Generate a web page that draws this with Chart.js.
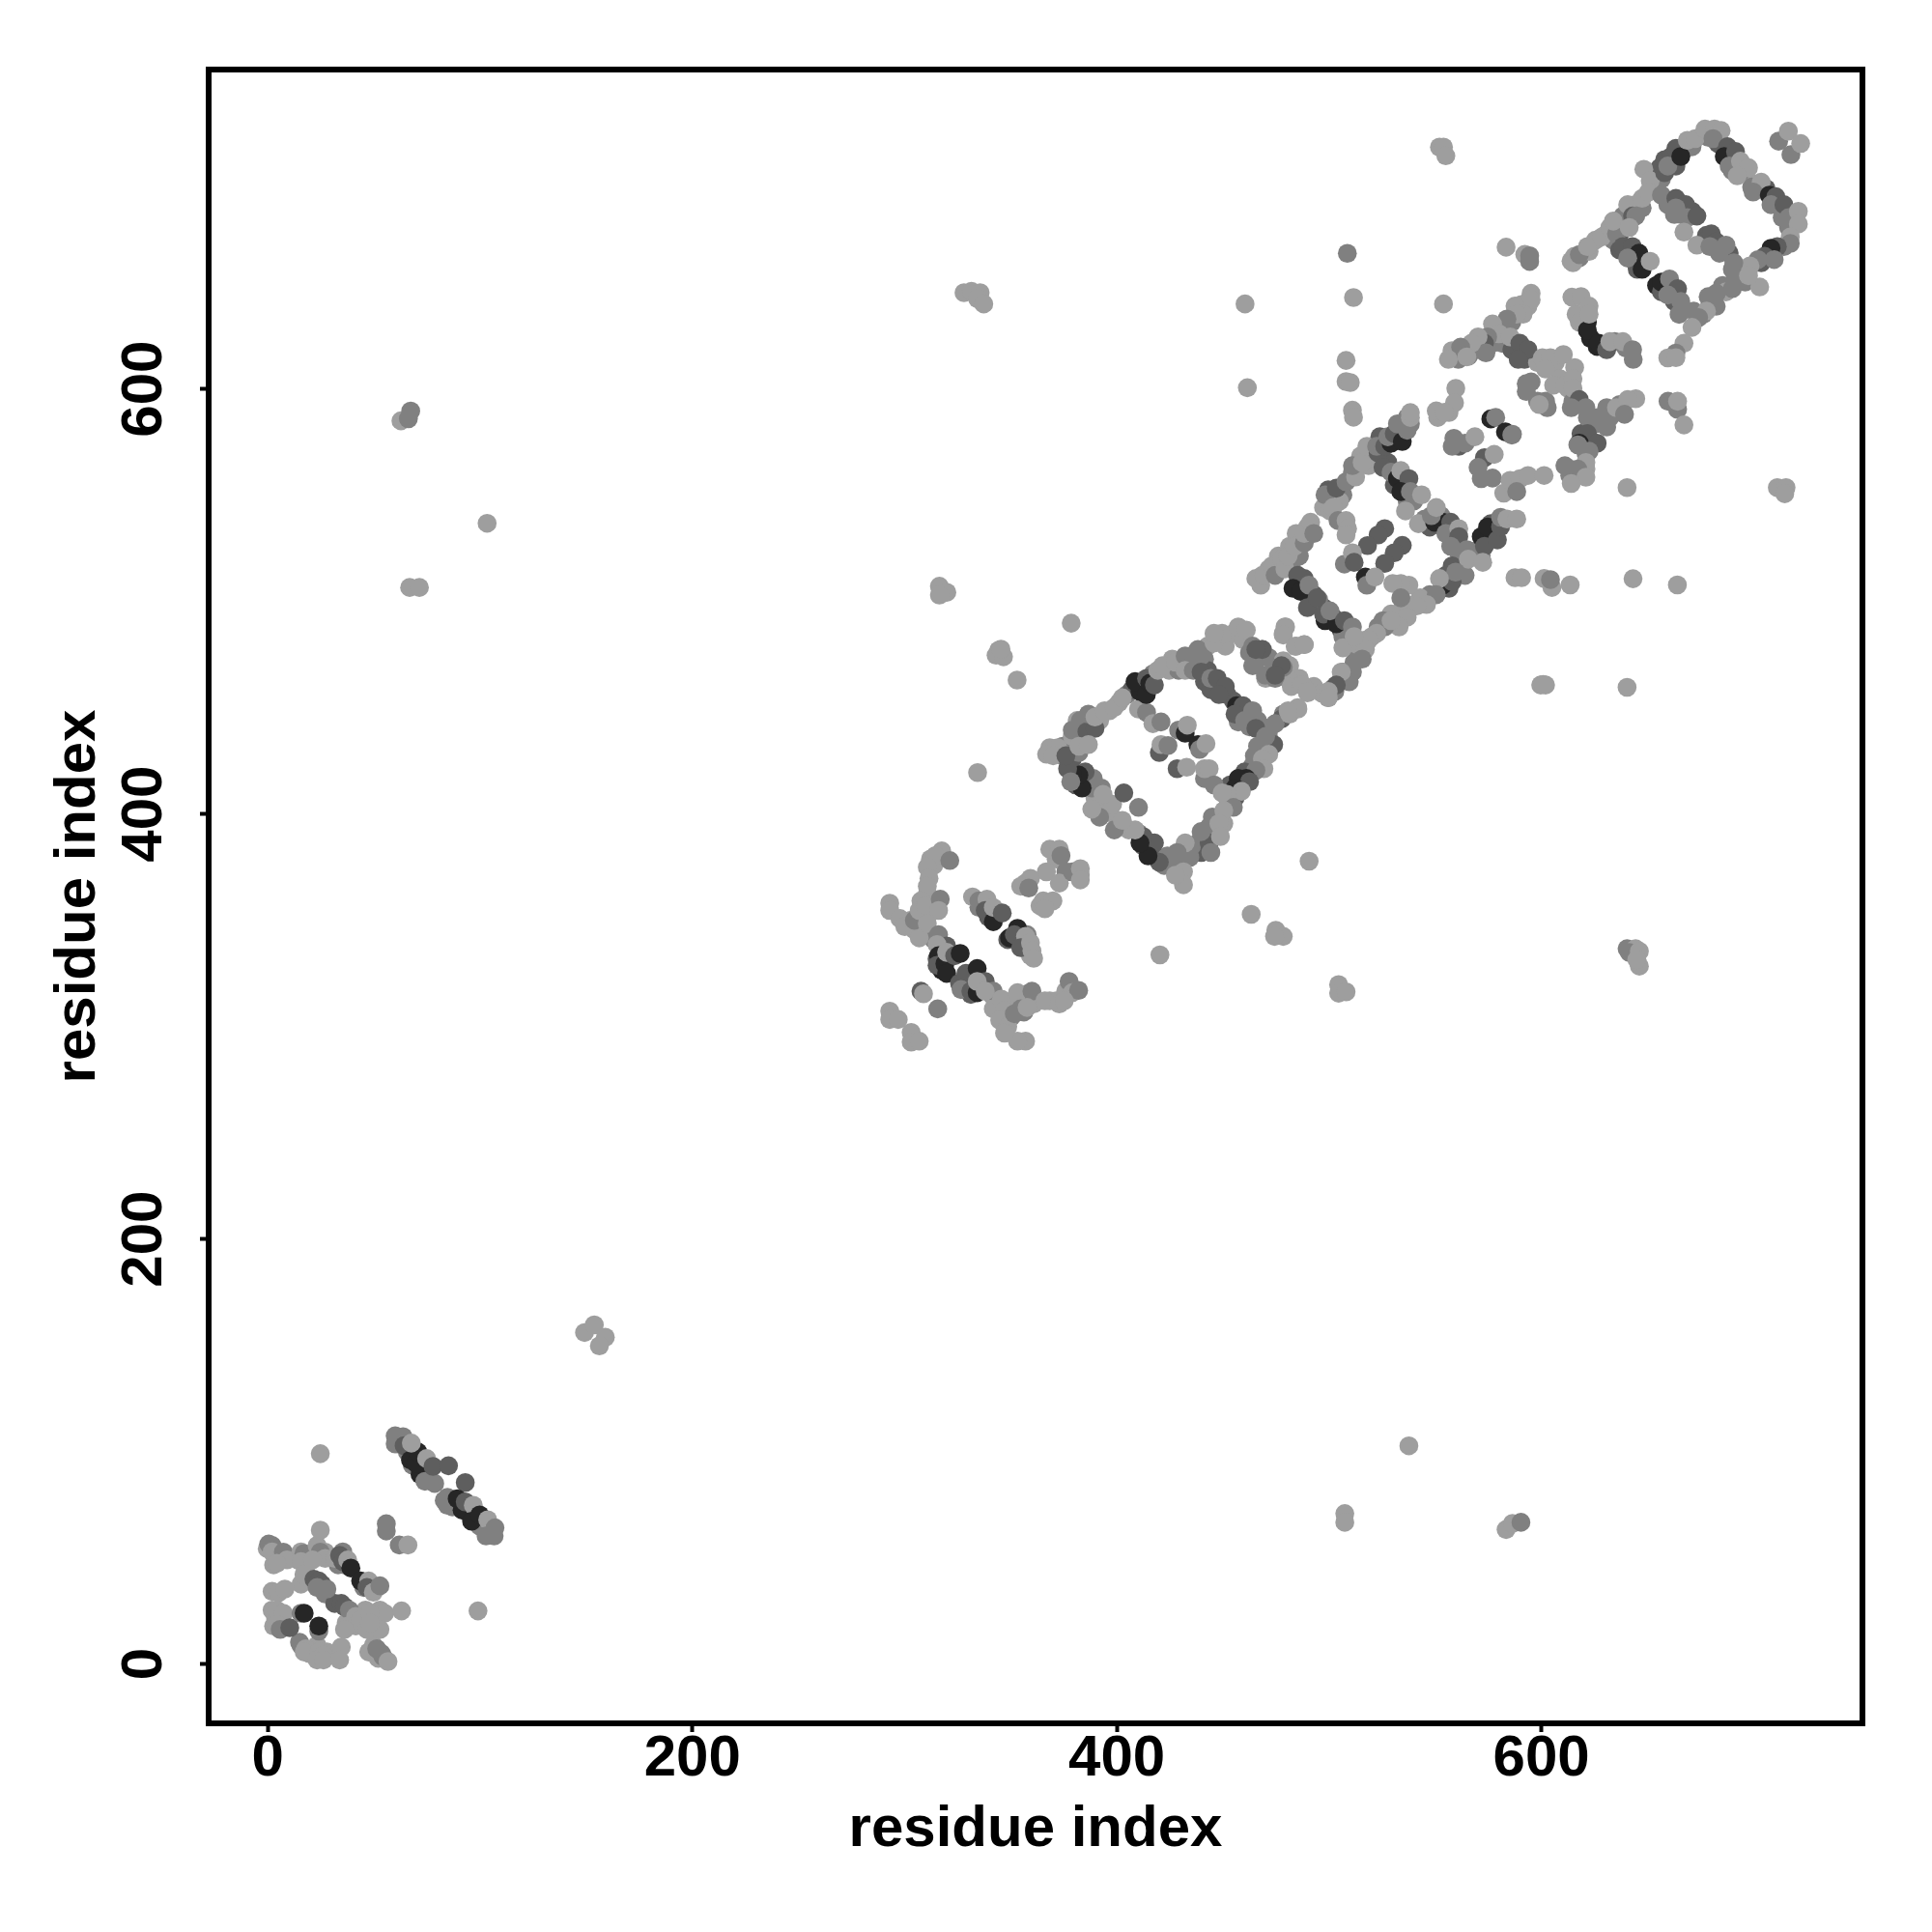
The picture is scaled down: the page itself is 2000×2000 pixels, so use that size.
<!DOCTYPE html>
<html><head><meta charset="utf-8">
<script src="https://cdn.jsdelivr.net/npm/chart.js@4"></script>
<style>html,body{margin:0;padding:0;background:#fff}canvas{display:block}</style>
</head><body><canvas id="c" width="2000" height="2000"></canvas>
<script>
// each record: [residue x, residue y, contact level 0..3]
const strandLowUnder=[[-0.3,54.3,0],[5.8,49.7,0],[2.7,46.7,0],[14.1,49,0],[17.9,45.9,0],[22.4,51.2,0],[27,52.7,0],[33.1,46.7,1],[36.1,46.7,1],[45.2,36,1],[50.5,36,0],[27,33,1],[31.5,28.5,2],[36.9,19.4,0],[41.4,17.9,0],[46,25.4,0],[49.7,19.4,0],[49.7,15.6,0],[5.8,22.4,0],[3.5,22.4,0],[2.7,17.9,0],[14.9,10.3,1],[19.4,5,0],[27.8,5.7,0],[23.2,8.8,0],[49.7,8.8,0],[52,2.7,0],[61.9,103.6,2],[68,93.7,1],[74.8,90.7,1],[83.1,77,1],[86.9,74,1],[94.5,71,1],[99.8,64.9,1],[103.6,63.4,1],[72.5,89.2,1],[65.7,99.8,1]];
const strandLowLeft=[[0.4,56.5,1],[2,55.8,1],[3.5,53.5,1],[2,52.8,0],[5,49,0],[7.3,52.7,1],[9,49,0],[4.2,47.4,0],[15.6,52.8,0],[17,52,1],[15.6,48.2,0],[15.6,37.6,0],[17,42.1,0],[23.2,55.8,0],[24.7,52.7,1],[27,49.7,0],[21,49,0],[31.5,49.7,0],[35.3,52.8,1],[33.8,51.2,2],[35.3,48.2,2],[37.6,49,0],[39.1,45.2,3],[43.7,39.1,3],[47.5,39.1,0],[46.7,36,2],[49.7,33.8,0],[52.8,36.8,1],[21.7,39.9,2],[24,39.1,2],[25.5,37.5,2],[23.2,36,1],[27.8,35.3,1],[34.6,28.5,2],[36.1,27,2],[38.4,25.4,1],[41.4,22.4,0],[37.6,17.9,0],[36.1,16.3,0],[43.7,20.9,0],[52.8,25.4,0],[55,23.9,0],[48.2,23.9,0],[46.7,16.3,0],[52.8,16.3,0],[48.2,19.4,0],[2,34.2,0],[5,33.5,0],[8,35.3,0],[2,25.4,0],[4.2,25.4,0],[7.3,23.9,0],[4.2,18.6,0],[5.8,16.3,1],[10.3,17.1,2],[15.6,23.9,1],[17.1,23.9,3],[24,15.5,1],[24,17.9,3],[15.6,8.8,1],[17.9,7.2,0],[17.1,5.7,0],[24,5.7,0],[26.2,4.2,0],[23.2,1.9,0],[26.2,1.9,0],[34.6,8,0],[33.8,1.9,0],[47.5,5.7,0],[51.3,7.2,1],[53.5,5,1],[54.3,3.4,1],[56.6,1.2,0]];
const strandLowIso=[[24.7,99,0],[24.7,63,0],[55.8,62.6,1],[55.8,66,1],[61.9,56,1],[66,56,0],[63,25,0],[99,25,0]];
const strandLowBand=[[60,103.6,1],[60,107.4,1],[63.7,107,1],[64.2,102.8,2],[67.2,96,3],[71.7,89.2,3],[69.8,94.5,3],[70.7,99.8,3],[67.6,104,0],[74.8,96.7,0],[74,86,1],[78.6,85,1],[77.8,93,2],[85.1,93.3,2],[93,85.4,2],[84.6,74.7,1],[84.6,78.5,1],[91.5,72.5,3],[89.2,77.8,3],[93,76.3,2],[96.8,74.7,0],[96,67.2,3],[99.8,70.2,3],[103.6,67.9,0],[102.8,60.3,1],[106.6,60.3,1],[107,64.1,1]];
const farContacts=[[149.2,156,0],[153.8,159.6,0],[159,153.8,0],[156.2,149.7,0],[537.6,102.7,0],[507.4,70.8,0],[507.4,66.7,0],[583.4,63.3,0],[586.4,66.2,0],[590.4,66.7,1],[62.7,585,0],[66.2,586,1],[67.3,589.6,1],[103.3,536.8,0],[66.8,506.6,0],[71.4,506.6,0],[328,645.3,0],[331.5,645.9,0],[335.6,645.3,0],[334.4,642.4,0],[337.3,640,0],[552,713.8,0],[553.9,713.8,0],[555,709.7,0],[460.4,640,0],[553.9,640,0],[511.5,643,0],[508.6,663.8,1],[508,613.4,0],[508,603.5,0],[510,603,0],[511,590,0],[511.5,586.7,0],[461.5,600.6,0],[583.4,666.7,0],[592.2,663.3,0],[594.5,662.7,1],[594.5,660,1],[711.8,716.6,1],[717.6,710.3,1],[716.4,721.3,0],[722.2,715.5,0],[711.2,553.6,0],[715.3,553.6,0],[714.7,550.7,0],[640.4,553.6,0],[643.2,510.7,0],[664.1,507.8,0],[613.6,507.8,0],[587.6,511.2,0],[590.7,511.2,0],[601.3,510.8,0],[605,506.6,0],[604.3,510.3,1],[599.7,460.7,0],[602,460.7,0],[640.4,459.6,0],[463.3,352.8,0],[474.9,345.3,0],[478.4,342.4,0],[474.3,342.4,0],[490.6,377.8,0],[420.3,333.7,0],[504.5,319.7,0],[504.5,315.7,0],[508,316.3,0],[640.4,336.6,1],[644.4,336.6,0],[641.5,334.8,1],[646.2,335.4,0],[646.2,328.4,0],[645,331.5,0],[334.4,419.5,0],[316.4,507.2,0],[319.9,504.3,0],[316.4,503,0],[378.5,489.8,0],[353,463,0],[344.3,477,0],[343.1,474.7,0],[346.6,474,0],[345.4,477.6,0],[659.7,594.2,1],[664.2,590.4,1],[664.2,594.2,0],[667.2,583.1,0]];
const bridgeUnder=[[310.7,354.6,0],[303.1,350,0],[306.9,345.5,0],[310.7,362.2,0],[314.5,357.6,0],[312.2,378.8,0],[313.7,375.8,0],[313.7,340.9,1],[317.5,336.4,2],[315.3,331.8,2],[317.5,326.5,3],[327.4,321.2,2],[332,322.7,2],[331.2,315.1,2],[336.5,319.7,2],[341,315.1,1],[342.6,312.1,0],[347.1,310.6,0],[350.2,304.5,1],[353.2,312.1,0],[357,315.1,1],[356.2,306.8,1],[345.6,304.5,0],[360.8,310.6,0],[368.4,312.1,0],[371.4,312.1,0],[375.9,316.6,0],[335,356.1,1],[338,357.6,1],[339.5,351.5,2],[348.6,340.9,2],[357,339.4,1],[357.7,343.2,1],[353.2,340.9,2],[359.3,333.3,0],[371.4,378.8,0],[357,367.5,0],[376,372.8,1],[382.8,371.3,0],[363.8,356.8,0]];
const bridgeMid=[[293,358,0],[293,354.6,0],[297.8,350.8,0],[300.1,347,0],[304.6,345.5,0],[306.9,341.7,0],[317.5,382.6,0],[314.5,380.4,0],[321.3,378.1,1],[310.7,375,0],[311.5,369.7,0],[310.7,366,0],[304.6,350,1],[307.7,359.1,0],[306.9,354.6,0],[310,356.8,0],[316.8,359.9,1],[316,354.6,0],[310.7,348.5,0],[316,343.2,1],[319.8,337.9,2],[315.3,338.6,0],[316,333.3,3],[315.3,328.8,2],[319,329.5,3],[319.8,325,3],[319.8,334.9,0],[323.6,333.3,2],[326.2,334.4,3],[325.9,320.4,2],[328.9,325,2],[334.2,327.3,3],[326.6,317.4,1],[331.2,316.6,2],[334.2,315.9,3],[338,321.2,2],[334.2,321.2,0],[341.8,316.6,1],[338,316.6,0],[341.8,308.3,0],[345.6,312.9,0],[347.1,307.5,0],[344.8,303,0],[348.6,300,0],[351.7,306,1],[353.2,315.9,0],[354.7,308.3,1],[360,316.6,1],[357.7,309,0],[357,293.1,0],[353.2,293.1,0],[347.1,296.9,0],[366.1,312.1,0],[372.9,310.6,0],[377.5,321.2,1],[379,315.9,0],[382,317,1],[375.2,312.1,0],[332,361,0],[335,359.1,1],[338.8,359.9,0],[338,354.6,2],[341.8,349.3,3],[341.8,356,0],[346,353.4,2],[349.4,341.7,3],[353.2,346.2,3],[351.7,343.2,2],[357,342.4,0],[354.7,337.1,2],[359.3,339.4,0],[360,335.6,0],[360.8,332.1,0],[307.7,316.6,2],[308.9,315.4,0],[315.6,308.3,1],[293,307.2,0],[293,303.3,0],[297,303.3,0],[303.1,297.2,0],[303.1,292.7,0],[306.9,293.1,0],[368.4,383.4,0],[372.9,383.4,0],[373.7,380.4,1],[366.8,372.8,0],[359.3,369.7,0],[354.7,366,0],[358.5,365.2,1],[372.9,367.5,0],[379,372.8,1],[382.8,374.3,0],[382.8,369,0],[365.3,359.1,0],[369.9,359.1,0],[366.1,355.4,0]];
const diamondOneUnder=[[374.5,431.9,1],[376.8,425.9,2],[380.6,439.5,1],[384.4,444,1],[391.9,444,0],[396.5,448.6,0],[401,452.4,0],[404.8,456.2,1],[407.1,458.5,2],[417,466,1],[424.6,467.6,0],[429.1,467.6,1],[426.1,472.9,0],[434.4,472.9,1],[442.8,479,0],[441.3,472.9,1],[451.1,479,0],[454.9,485,0],[459.5,482,0],[462.5,475.9,1],[466.3,472.9,1],[471.6,473.6,1],[473.9,467.6,1],[478.4,472.1,0],[481.4,469.8,0],[486,463.8,0],[480.7,463.8,0],[492.8,460,0],[496.6,456.9,0],[442.8,467.6,2],[441.3,462.3,2],[444.3,458.5,2],[451.9,456.2,2],[454.9,453.2,2],[457.2,443.3,1],[462.5,441,1],[462.5,447,2],[468.6,441,1],[478.4,447,1],[471.6,439.5,1],[471.6,435.7,1],[469.3,432.7,1],[468.6,428.9,1],[464.8,427.4,1],[464,422.8,1],[460.2,419.8,2],[458.7,415.2,2],[453.4,413.7,2],[452.6,404.6,1],[448.8,398.6,0],[445,398.6,1],[450.4,395.5,0],[445.8,391,0],[442.8,387.9,2],[438.2,386.4,1],[439.7,381.9,2],[435.2,384.9,1],[430.6,380.3,1],[426.1,375.8,1],[422.3,375.8,1],[418.5,379.6,2],[416.2,386.4,2],[412.4,384.9,2],[410.2,391,1],[405.6,392.5,0],[400.3,397,0],[395.7,401.6,0],[391.2,403.1,0],[389.7,407.6,0],[392.7,412.2,1],[388.2,412.2,1],[385.1,415.2,2],[380.6,413.7,2],[377.5,421.3,2],[379,425.9,2],[382.1,428.9,1],[374.5,427.4,1]];
const diamondOne=[[368.4,431.2,0],[372.2,431.2,0],[366.9,428.1,0],[370,427.4,0],[379,436.5,0],[381.3,444,0],[382.8,444,1],[379,439.5,1],[385.9,438.7,2],[389.7,440.3,2],[386.6,447,1],[389.7,445.6,0],[394.2,448.6,0],[398.8,450.1,0],[402.6,454.7,0],[410.2,449.4,0],[414,447.8,1],[410.9,457.7,3],[408.6,462.3,3],[413.9,456.2,3],[414,463.8,2],[415.5,461.5,3],[417.7,460.7,2],[419.3,467.6,0],[421.5,469.8,0],[427.6,471.4,0],[432.2,474.4,1],[432.2,467.6,0],[438.2,477.4,1],[436,467.6,1],[439.7,474.4,1],[439.7,466.8,2],[445.8,480.5,0],[449.6,485,0],[445.8,485,0],[457.2,488,0],[461,486.5,0],[464,479,1],[468.6,477.4,1],[464,469.8,1],[478.4,469,1],[470.1,463.8,0],[474.6,463.8,1],[479.2,488,0],[478.4,485,0],[488.3,479.7,0],[484.5,479,0],[482.2,460,0],[486.8,460.7,0],[489.8,457,0],[499.6,454.7,0],[502.7,457.7,1],[444.3,463.8,1],[447.3,463.8,2],[451.1,460,2],[448.1,456.2,2],[456.4,450.9,3],[459.5,450.9,2],[455.7,447,2],[460.2,444,1],[464,448.6,1],[466.3,444,1],[465.5,440.3,2],[477.7,444.8,2],[474.6,442.5,1],[481.4,447,0],[485.3,449.4,0],[473.9,432.7,2],[470.1,436.5,1],[466.3,431.9,1],[471.6,428.1,0],[468.6,425.9,0],[469.3,421.3,0],[465.5,420.5,1],[461,416.7,3],[457.2,416.7,3],[462.5,415.2,2],[455.7,412.2,3],[455.7,407.6,2],[458.7,410.7,0],[451.9,409.2,0],[454.9,403.1,1],[450.4,401.6,0],[443.5,394,1],[448.1,395.5,0],[443.5,386.4,2],[439.7,391.7,1],[444.3,381.9,1],[448.8,389.4,0],[434.4,379.6,1],[432.2,386.4,0],[428.4,381.9,1],[431.4,372.8,0],[431.4,366.7,0],[427.6,371.2,0],[423.8,380.3,1],[420,377.3,2],[417.7,386.4,2],[414.7,380.3,3],[412.4,389.4,2],[410.9,386.4,3],[408.6,392.5,0],[398.8,392.5,1],[402.6,397,0],[398,404.6,0],[393.5,409.2,0],[391.9,398.5,1],[388.2,402.3,0],[388.9,416.7,1],[385.1,419.8,2],[383.6,412.2,3],[382.1,418.3,3],[379,418.3,3],[376.8,421.3,2],[376,427.4,2],[378.3,415.2,1],[382.1,431.9,0],[386.6,432.7,0],[403.3,409.9,2],[410.2,403.1,1],[417,442.5,0],[420.8,443.3,1],[429.1,439.5,1],[432.2,438,3],[433.2,441.8,0],[420,428.9,2],[420.8,432.7,0],[424.1,432.2,1],[438.2,432.7,3],[439,430.4,1],[442,433.1,0],[428.4,421.3,2],[432.9,422,0],[441.3,416.7,1],[441.3,421.3,0],[443.5,421.3,0],[445.8,413.7,1],[449.6,409.9,0]];
const diamondTwoUnder=[[467.8,507.7,0],[471.6,515.3,0],[476.1,521.4,0],[482.2,516.8,1],[486,521.4,1],[481.4,526,0],[484.5,532,0],[489.8,535,0],[497.4,544.2,0],[498.9,548.7,0],[506.5,550.2,1],[504.9,547.2,0],[511,560.8,1],[514.8,568.4,0],[520.1,568.4,1],[518.6,563.9,0],[523.9,577.5,2],[532.2,577.5,2],[534.5,579,2],[538.3,583.6,1],[536.8,586.6,1],[527.7,565.4,2],[530.7,554.8,2],[539.8,547.2,1],[536.8,547.2,1],[545.1,538.8,1],[547.4,535,2],[552.7,540.4,1],[556.5,535,2],[559.6,529,2],[561.1,522.9,1],[562.6,518.4,1],[558,516.8,2],[564.1,512.3,1],[570.2,524.4,1],[571.7,521.4,1],[574,532,2],[576.2,536.6,2],[555,512.3,2],[556.5,506.2,2],[547.4,503.2,1],[542.9,501.7,0],[536.8,498.6,0],[533.8,495.6,0],[529.2,494.1,0],[525.4,491,1],[523.1,488,1],[520.1,483.5,0],[517.1,481.9,0],[514,475.9,1],[511.8,471.4,1],[511,466.8,1],[506.5,466.8,1],[501.9,459.2,1],[492.8,503.2,2],[497.4,497.1,2],[501.9,492.6,2],[505.7,486.5,2],[509.5,486.5,1],[509.5,480.4,0],[513.3,479.7,0],[506.5,483.5,1],[488.3,510.8,2],[485.2,506.2,2],[468.5,512.3,0]];
const diamondTwo=[[465.5,510.8,0],[469.3,512.3,0],[473.1,516.8,0],[474.6,512.3,1],[477.6,519.9,0],[479.2,515.3,0],[480.7,521.4,0],[483.7,526,0],[488.3,527.5,1],[488.3,532,0],[491.3,537.3,0],[492.8,532,1],[499.6,552.5,2],[498.1,550.2,1],[500.4,542.6,0],[501.9,544.2,0],[503.4,553.3,2],[508,556.3,1],[512.5,558.6,0],[511,563.9,1],[515.6,565.4,0],[517.8,573,0],[523.1,569.9,2],[522.4,573,1],[526.2,573,2],[529.2,574.5,3],[527.7,577.5,1],[530.7,579,2],[534.5,575.3,3],[536.8,580.6,1],[532.2,583.6,1],[538.3,586.6,0],[538.3,588.9,0],[525.4,563.1,2],[529.2,560.8,1],[532.2,557.8,3],[533.8,561.6,0],[537.6,557.8,2],[533.8,551.7,3],[538.3,551.7,1],[543.6,550.2,0],[536,542.6,0],[542.1,536.6,0],[549.7,537.3,3],[553.5,537.3,3],[548.2,540.4,1],[550.5,544.2,0],[557.3,537.3,2],[555,532,1],[561.1,534.3,0],[561.1,530.5,2],[557.3,526,1],[564.9,524.4,1],[565.6,519.9,0],[571.7,530.5,3],[573.2,526,2],[574.7,535.1,3],[572.4,518.4,0],[579.3,529,2],[580.8,535.1,2],[580.8,539.6,1],[583.8,538.8,0],[588.4,538.8,0],[553.5,507.7,3],[558,509.3,2],[559.6,513.8,1],[552,510.8,0],[550.5,503.2,1],[545.9,498.6,0],[541.3,497.9,0],[537.6,507.7,0],[533.8,508.5,0],[530,508.5,0],[533.8,501.7,1],[536.8,492.6,0],[533,488,0],[526.2,488,1],[529.2,491,0],[522.4,485,0],[518.6,481.9,0],[517.1,477.4,0],[515.6,472.9,1],[509.5,462.2,1],[505.7,466.8,0],[503.4,460.7,2],[499.6,457.7,0],[499.6,454.7,0],[485.2,512.3,2],[483,506.2,3],[486.7,504.7,3],[490.5,507.7,1],[495.1,500.9,1],[489.8,497.1,2],[494.3,501.7,2],[498.1,491,3],[497.4,494.1,2],[503.4,489.5,3],[500.4,495.6,1],[507.2,491,2],[511,488,1],[506.5,478.2,0],[511.8,483.5,0],[526.2,534.3,2],[523.1,531.3,2],[518.1,526.3,2],[534.5,526.4,2],[530.7,522.9,2],[526.2,517.9,2],[507.2,517.6,1],[511,522.9,0],[511.8,518.4,2],[517.1,511.5,3],[517.8,507.7,1],[521.6,511.5,0],[504.2,538.1,1],[508,538.1,0],[508.7,534.3,0],[508,531.3,0],[479.5,488,0],[478.4,484.2,0],[484,478.9,0],[488.3,479.7,0],[468.5,477.4,2],[465.5,477.4,2],[477.6,469.8,2],[470,465.3,1],[474.6,465.3,2],[487.5,460.7,0],[489.8,457.7,0],[485.2,450,0],[480.7,448.6,0],[551.2,586.6,0],[556.5,588.9,0],[550.5,589.7,0],[561.1,573,2],[558,573,1],[558.8,576.8,1],[564.1,574.5,1],[568.7,577.5,0],[576.2,585.9,3],[578.5,586.6,1],[583.1,579.8,3],[586.4,578.7,1],[573.2,567.7,2],[577.8,569.2,0],[570.2,563.1,1],[571.7,557.8,1],[577,558.1,1],[582.3,551,0],[585.3,557,0],[589.9,557.8,0],[588.4,551.7,1],[593.7,559.3,0],[601.3,559.3,0],[600.8,461,0],[559.7,600.3,0],[559.1,593.5,0],[554.4,589,0]];
const junctionUnder=[[570.2,618.5,1],[577,621.5,1],[582.3,629.1,0],[586.1,631.4,1],[590.6,639.7,0],[593.7,638.9,0],[594.4,642,0],[581.5,621.5,1],[586.1,618.5,2],[592.1,613.9,2],[598.2,612.4,0],[606.6,612.4,0],[595.2,603.3,1],[598.2,594.2,1],[602.8,591.2,1],[608.8,604.8,0],[612.6,600.3,0],[614.9,594.2,1],[618.7,579,2],[625.5,583.6,1],[627,586.6,1],[632.3,586.6,1],[636.9,592.7,1],[624.8,574.5,2],[619.4,573,2],[621,569.9,1],[621,562.3,0],[615.7,559.3,1],[611.1,563.9,1],[616.4,635.2,0],[621.7,631.4,3],[623.2,623.8,3],[626.3,620,3],[634.6,622.3,1],[639.9,619.2,1]];
const junctionUpper=[[614,660.2,0],[617.9,661.7,1],[622.5,664.7,0],[614.4,643.2,0],[618.7,643.5,0],[622.5,639,0],[617.9,631.4,0],[621.7,627.6,3],[622.5,635.2,0],[627,621.5,3],[630.8,618.5,2],[632.3,622.3,0],[638.4,622.3,0],[643,618.5,1],[643.3,613.9,1],[595.2,645,0],[595.2,642,0],[587.6,639,0],[591.4,635.2,0],[588.4,635.2,0],[583.8,632.9,1],[577,630.6,0],[580,626,0],[574.7,624.5,1],[573.2,621.5,2],[570.2,624.5,0],[573.9,617,1],[565.6,615.4,1],[567.1,621.5,0],[585.3,624.5,0],[589.9,621.5,2],[593.7,618.5,2],[589.1,613.9,2],[600.5,614.7,0],[604.3,614.7,0],[610.4,616.2,0],[602,609.4,0],[615.7,610.1,0],[592.9,602.5,1],[592.9,598.8,1],[602,594.2,1],[599,592.7,0],[605.8,601.8,0],[611.1,601.8,0],[614.9,604.8,0],[614.9,600.3,0],[617.9,595,2],[614.1,591.2,1],[621,591.2,1],[621.7,586.6,1],[630.8,591.2,1],[635.4,591.2,0],[644.5,595.4,0],[640.7,595,0],[639.2,588.1,1],[630.8,582.1,1],[621.7,579,2],[626.3,574.5,2],[617.9,574.5,3],[617.2,573.7,1],[622.5,570.7,1],[621,565.4,0],[613.4,562.3,1],[613.4,559.3,1],[617.2,562.3,1],[621,558.5,0],[614.1,555.5,0],[557.9,618,0],[562,619.7,1],[560.9,613.9,1],[556.2,613.9,0],[564.9,615.1,0],[586.1,578.3,1]];
const diamondThreeUnder=[[615.6,662.4,0],[625.5,670,0],[630.8,673,0],[633.9,670,1],[636.1,677.6,1],[638.4,681.4,1],[644.5,686.7,0],[646,685.2,1],[639.9,680.6,1],[647.5,685.2,1],[656.6,698.8,1],[655.8,704.1,2],[658.1,707.9,2],[663.4,704.9,2],[667.2,712.5,1],[671,714,1],[676.3,719.3,0],[678.6,718.5,1],[683.2,715.5,2],[690,707.9,2],[690,702.6,1],[695.3,701.8,1],[700.6,696.5,0],[699.1,695,1],[705.9,694.3,2],[711.2,688.2,2],[713.5,680.6,1],[716.5,676,1],[714.3,667,1],[706.7,663.2,2],[703.6,659.4,2],[697.6,656.3,1],[696,650.3,1],[691.5,653.3,1],[653.6,694.3,1],[659.6,686.7,1],[662.7,682.1,1],[665.7,682.1,1],[671,683.6,2],[677.8,672.3,2],[677.8,670,2],[682.4,667,2],[688.5,663.9,2],[690,656.3,1],[691.5,654.8,1],[685.4,648.7,1],[679.4,639.6,1],[676.3,635.1,1],[671.8,636.6,1],[636.9,673,2],[636.9,665.4,2],[640.7,663.9,2],[644.5,659.4,3],[645.2,656.3,2],[654.3,648.7,3],[656.6,645.7,2],[662.7,641.2,2],[664.9,635.1,1]];
const diamondThree=[[614.9,659.4,0],[617.9,663.2,1],[621.7,667,0],[628.5,671.5,0],[632.3,676,0],[635.4,673,1],[633.9,679,0],[640.7,686.7,0],[643,681.4,2],[644.5,681.4,1],[647.5,689.7,0],[641.4,676,0],[648.3,703.4,0],[651.3,698,0],[650.5,692.7,0],[658.1,701.8,2],[661.2,709.4,2],[659.6,704.9,1],[663.4,713.2,2],[665.7,709.4,3],[668.8,717,0],[672.5,717.8,0],[677.1,722.3,0],[681.6,722.3,0],[684.7,721.6,0],[680.9,717.8,1],[687.7,714,2],[686.2,709.4,3],[691.5,711.7,2],[688.5,704.9,1],[693.8,707.2,0],[697.6,704.1,0],[692.3,700.3,0],[703.6,697.3,0],[699.8,692.7,1],[707.4,691.2,3],[710.5,690.5,2],[708.2,686.7,1],[714.3,686.7,2],[716.5,680.6,1],[721.1,683.6,0],[721.1,677.6,0],[717.3,671.5,0],[717.3,668.5,1],[711.2,667,2],[708.2,666.2,3],[705.2,662.4,2],[702.1,660.9,1],[709.7,660.9,1],[698.3,657.9,0],[702.9,648,0],[697.6,653.3,0],[656.6,691.2,1],[663.4,689.7,2],[668,686.7,2],[663.4,685.2,1],[668.8,680.6,1],[673.3,681.4,2],[667.2,673.8,0],[673.3,667.7,0],[680.1,673,2],[682.4,669.2,2],[679.4,667,1],[687,667.7,1],[683.9,663.9,1],[690.7,659.4,1],[687,645.7,0],[690,647.2,1],[682.4,645,1],[678.6,643.4,1],[682.4,638.9,1],[677.8,636.6,0],[674.1,633.6,1],[671,629,0],[638.4,667,2],[642.9,667,2],[646,663.9,3],[640.7,661.6,1],[647.5,656.3,3],[651.3,660.1,0],[656.6,650.3,3],[660.4,651.8,1],[664.2,647.2,2],[659.6,644.2,1],[665.7,641.2,1],[667.2,621.5,0],[663.4,616.9,1],[659.6,614.6,0],[663.4,614.7,0]];
const regions=[strandLowUnder,strandLowLeft,strandLowIso,strandLowBand,farContacts,bridgeUnder,bridgeMid,diamondOneUnder,diamondOne,diamondTwoUnder,diamondTwo,junctionUnder,junctionUpper,diamondThreeUnder,diamondThree];
const levelGreys=['#9e9e9e','#808080','#5e5e5e','#262626'];
const tickValues=[0,200,400,600];
const axisLabel='residue index';

const frame={id:'frame',afterDraw(ch){const a=ch.chartArea,g=ch.ctx;g.save();g.strokeStyle='#000';g.lineWidth=6;g.lineJoin='miter';g.strokeRect(a.left,a.top,a.right-a.left,a.bottom-a.top);g.restore();}};
const tickFont={family:'"Liberation Sans"',size:60,weight:'bold'};
const titleFont={family:'"Liberation Sans"',size:60,weight:'bold'};
const fixTicks=s=>{s.ticks=tickValues.map(v=>({value:v}));};
new Chart(document.getElementById('c'),{
 type:'scatter',
 data:{datasets:regions.map((r,i)=>({
   label:'contacts '+i,
   data:r.map(p=>({x:p[0],y:p[1],level:p[2]})),
   order:regions.length-i,
   pointRadius:9.8,pointHoverRadius:9.8,pointBorderWidth:0,
   pointBackgroundColor:c=>levelGreys[c.raw.level]
 }))},
 options:{responsive:false,animation:false,events:[],
  layout:{padding:{left:0,top:72,right:72,bottom:0}},
  plugins:{legend:{display:false},tooltip:{enabled:false},title:{display:false}},
  scales:{
   x:{type:'linear',position:'bottom',min:-27.9,max:751.3,afterBuildTicks:fixTicks,afterFit:s=>{s.height=216;},
      grid:{drawOnChartArea:false,drawTicks:true,tickLength:9,tickWidth:4,tickColor:'#000'},
      border:{display:false},
      ticks:{color:'#000',font:tickFont,padding:-8,maxRotation:0,minRotation:0,autoSkip:false},
      title:{display:true,text:axisLabel,color:'#000',font:titleFont,padding:{top:0,bottom:70}}},
   y:{type:'linear',position:'left',min:-27.9,max:750.3,afterBuildTicks:fixTicks,afterFit:s=>{s.width=216;},
      grid:{drawOnChartArea:false,drawTicks:true,tickLength:9,tickWidth:4,tickColor:'#000'},
      border:{display:false},
      ticks:{color:'#000',font:tickFont,padding:6,minRotation:90,maxRotation:90,crossAlign:'center',autoSkip:false},
      title:{display:true,text:axisLabel,color:'#000',font:titleFont,padding:{top:45,bottom:0}}}
  }},
 plugins:[frame]
});
</script></body></html>
